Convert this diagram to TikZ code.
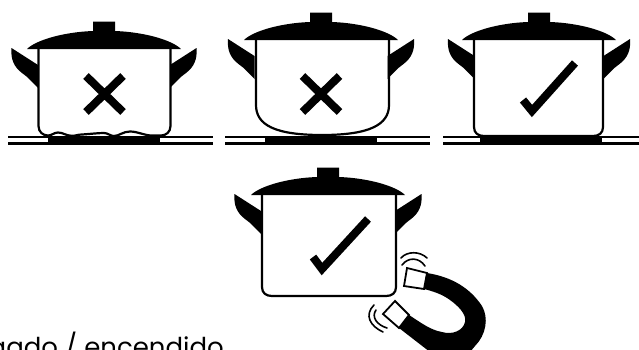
\documentclass[tikz,border=0pt]{standalone}
\usepackage{fontspec}
\setmainfont{Poppins}
\begin{document}
\begin{tikzpicture}[
        x=1pt, y=-1pt,
        wall/.style={line width=2.2pt, line join=round},
        hob/.style={line width=2.2pt},
        verdict/.style={line width=8pt, line join=miter},
        polecap/.style={draw, line width=1.8pt, fill=white, line join=miter},
        ripple/.style={line width=1.6pt, line cap=round},
        pics/pottop/.style={code={
          % lid and knob sit on the origin, #1 is half the wall spacing
          \fill (-77,0) .. controls (-68,-9) and (-40,-17) .. (-11,-18) -- (-11,-27.5) -- (11,-27.5) -- (11,-18)
            .. controls (40,-17) and (68,-9) .. (77,0) -- cycle;
          \fill (-#1,16) -- (-#1-26.5,-1) .. controls (-#1-27.5,10) and (-#1-24,18) .. (-#1-16,24) .. controls (-#1-10,28) and (-#1-5,34) .. (-#1,39) -- cycle;
          \fill (#1,16) -- (#1+26.5,-1) .. controls (#1+27.5,10) and (#1+24,18) .. (#1+16,24) .. controls (#1+10,28) and (#1+5,34) .. (#1,39) -- cycle;
        }}
      ]
        \useasboundingbox (0,0) rectangle (639,349);
        \clip (0,0) rectangle (639,349);
        % first row
        \pic at (104,49) {pottop=66};
        \draw[wall] (38.5,49) -- (38.5,126) .. controls (38.5,132) and (43,135.5) .. (48,135.5)
          .. controls (52,135.5) and (54,132.5) .. (58,132.5) .. controls (63,132.5) and (66,135.8) .. (72,135.8)
          .. controls (76,135.8) and (78,134.5) .. (82,134.5) .. controls (90,134) and (98,133) .. (104,133)
          .. controls (108,133) and (110,136) .. (114,136) .. controls (119,136) and (123,131.5) .. (130,131.5)
          .. controls (138,131.5) and (144,135.5) .. (152,135.5) -- (161,135.5)
          .. controls (166,135.5) and (170.5,132) .. (170.5,126) -- (170.5,49);
        \fill (48,136) rectangle (160,144);
        \draw[hob] (8,137) -- (213,137) (8,143.5) -- (213,143.5);
        \draw[verdict] (86,76) -- (123,112) (123,76) -- (86,112);

        \pic at (321,40) {pottop=66.5};
        \draw[wall] (256,40) -- (256,105) .. controls (256,125) and (275,135) .. (322,135)
          .. controls (369,135) and (389,125) .. (389,105) -- (389,40);
        \fill (265,136) rectangle (377,144);
        \draw[hob] (225,137) -- (430,137) (225,143.5) -- (430,143.5);
        \draw[verdict] (302.5,76) -- (339.5,112) (339.5,76) -- (302.5,112);

        \pic at (539,40) {pottop=64.5};
        \draw[wall] (474,40) -- (474,127) .. controls (474,133) and (478,136) .. (484,136) -- (593,136)
          .. controls (599,136) and (603,133) .. (603,127) -- (603,40);
        \fill (480,136) rectangle (602,144);
        \draw[hob] (443,137) -- (639,137) (443,143.5) -- (639,143.5);
        \draw[verdict] (523,100) -- (532,111) -- (575,63);

        % second row
        \pic at (328,195) {pottop=67};
        \draw[wall] (262,195) -- (262,287) .. controls (262,293) and (266,296) .. (272,296) -- (386,296)
          .. controls (392,296) and (396,293) .. (396,287) -- (396,195);
        \draw[verdict] (313,257) -- (322,269) -- (368,219);

        % magnet
        \fill (427,273) .. controls (452,277) and (470,288) .. (482,306) .. controls (489,318) and (486,335) .. (475,346)
          -- (470,352) -- (430,352) -- (399,328) -- (409,315)
          .. controls (420,322) and (430,330) .. (442,332) .. controls (452,335) and (463,331) .. (465,322)
          .. controls (467,314) and (457,305) .. (450,300) .. controls (442,294) and (432,291) .. (424,289) -- cycle;
        \draw[polecap] (407,268) -- (427,273) -- (424,289) -- (404,286) -- cycle;
        \draw[polecap] (395,301) -- (409,315) -- (399,328) -- (383,314) -- cycle;
        \draw[ripple] (401,258) .. controls (407,251) and (420,251) .. (427,258);
        \draw[ripple] (402,265) .. controls (408,257) and (419,257) .. (425,266);
        \draw[ripple] (374,305) .. controls (364,315) and (370,326) .. (383,332);
        \draw[ripple] (376,310) .. controls (371,317) and (377,325) .. (387,328);

        \node[anchor=base east, font=\fontsize{26}{26}\selectfont, inner sep=0pt] (status) at (224,356) {apagado / encendido};
      \end{tikzpicture}
\end{document}
